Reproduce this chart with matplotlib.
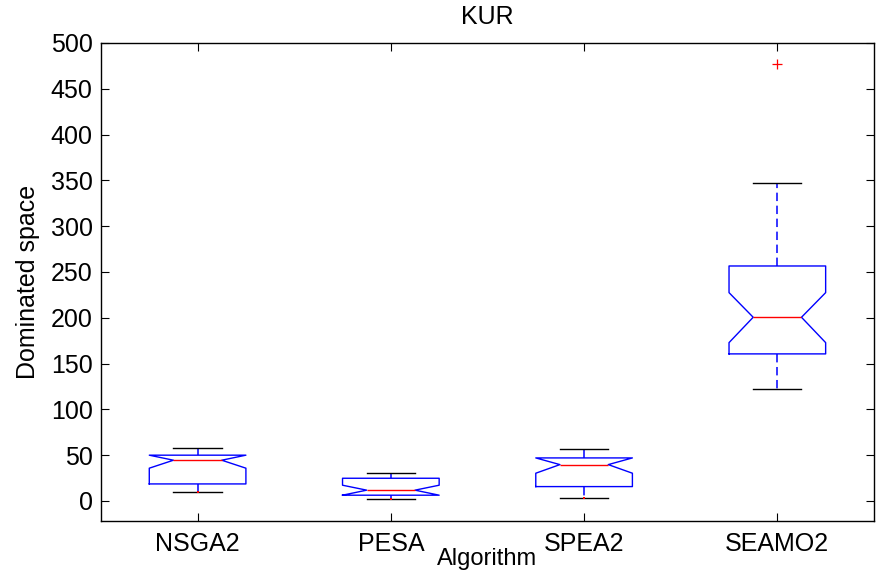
import matplotlib
matplotlib.use('Agg')
import matplotlib.pyplot as plt

# box statistics per algorithm (dominated space, KUR problem)
algorithms = ['NSGA2', 'PESA', 'SPEA2', 'SEAMO2']
whislo = [9.5, 2.2, 3.3, 122.6]
q1 = [18.5, 6.2, 15.6, 160.5]
cilo = [35.7, 6.2, 30.2, 172.8]
med = [44.4, 11.7, 39.6, 200.5]
cihi = [49.9, 17.1, 46.9, 227.4]
q3 = [49.9, 24.7, 46.9, 256.5]
whishi = [57.9, 30.2, 56.8, 347.5]
outliers = [[], [], [], [477]]

plt.rcParams['font.family'] = ['Liberation Sans', 'DejaVu Sans']

fig = plt.figure(figsize=(8.78, 5.74), dpi=100)
ax = fig.add_axes([0.115, 0.0923, 0.8804, 0.8328])

stats = []
for i in range(len(algorithms)):
    stats.append(dict(label=algorithms[i], whislo=whislo[i], q1=q1[i],
                      cilo=cilo[i], med=med[i], cihi=cihi[i], q3=q3[i],
                      whishi=whishi[i], fliers=outliers[i]))

pos = list(range(1, len(algorithms) + 1))
ax.bxp(stats, positions=pos, widths=0.5, capwidths=0.25, shownotches=True,
       boxprops=dict(color='#0000ff', linewidth=1.0),
       medianprops=dict(color='#ff0000', linewidth=1.0),
       whiskerprops=dict(color='#0000ff', linewidth=1.1,
                         linestyle=(0, (5.5, 3))),
       capprops=dict(color='black', linewidth=1.0),
       flierprops=dict(marker='+', markeredgecolor='#ff0000',
                       markersize=7, markeredgewidth=0.9))

# small red marks at the lower whisker ends
ax.plot(pos[:3], whislo[:3], linestyle='none', marker='s', markersize=2,
        color='#ff0000', markeredgewidth=0)

ax.set_xlim(0.5, 4.5)
ax.set_ylim(-22, 500)
ax.set_yticks(range(0, 501, 50))
ax.set_xticks(pos)
ax.set_xticklabels(algorithms)

ax.tick_params(direction='in', top=True, right=True, length=5.8,
               width=0.8, labelsize=18)
ax.tick_params(axis='x', pad=8)
ax.tick_params(axis='y', pad=6)
for s in ax.spines.values():
    s.set_linewidth(1.0)

ax.set_title('KUR', fontsize=18, pad=14)
ax.set_xlabel('Algorithm', fontsize=17, labelpad=-6)
ax.set_ylabel('Dominated space', fontsize=18, labelpad=8)

fig.savefig('out.png', dpi=100)
